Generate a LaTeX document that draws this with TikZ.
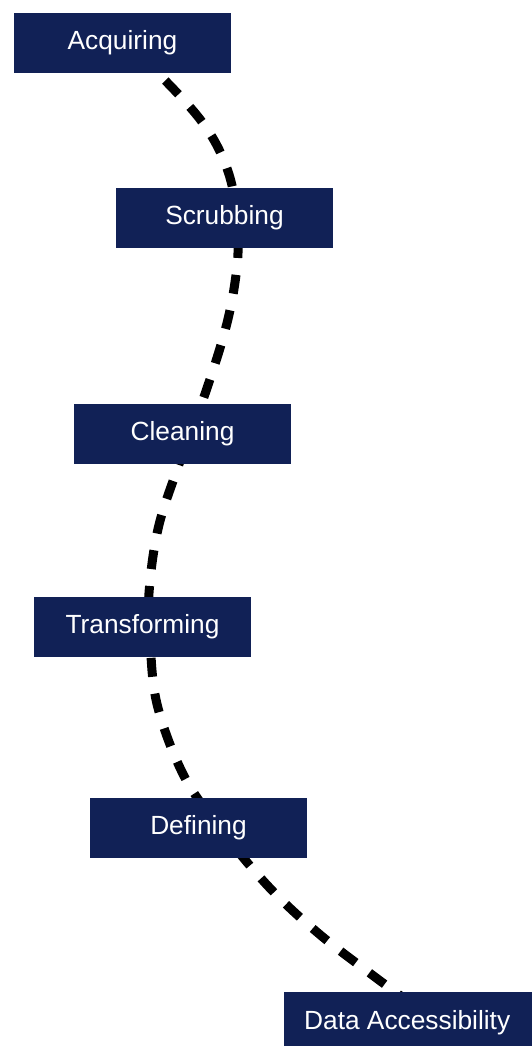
\documentclass[tikz,border=0pt]{standalone}
\usepackage{fontspec}
\setmainfont{Liberation Sans}
\definecolor{navy}{RGB}{17,33,86}
\tikzset{
  stage/.style={rectangle, fill=navy, text=white, minimum width=217pt, minimum height=60pt, inner sep=0pt, font=\fontsize{26.3}{31}\selectfont},
  dashline/.style={line width=9pt, dash pattern=on 19pt off 17pt, black}
}
\begin{document}
\begin{tikzpicture}[x=1pt,y=-1pt]
\useasboundingbox (0,0) rectangle (531,1046);
\coordinate (p0) at (140,55);
\coordinate (p1) at (180,96);
\coordinate (p2) at (205,126);
\coordinate (p3) at (222,156);
\coordinate (p4) at (233,190);
\coordinate (p5) at (238,235);
\coordinate (p6) at (236,275);
\coordinate (p7) at (226,327);
\coordinate (p8) at (205,394);
\coordinate (p9) at (178,467);
\coordinate (p10) at (158,529);
\coordinate (p11) at (149,593);
\coordinate (p12) at (150,640);
\coordinate (p13) at (157,704);
\coordinate (p14) at (182,772);
\coordinate (p15) at (215,822);
\coordinate (p16) at (267,885);
\coordinate (p17) at (318,933);
\coordinate (p18) at (375,977);
\coordinate (p19) at (420,1010);
\draw[dashline] plot[smooth, tension=0.6] coordinates {(p0) (p1) (p2) (p3) (p4) (p5) (p6) (p7) (p8) (p9) (p10) (p11) (p12) (p13) (p14) (p15) (p16) (p17) (p18) (p19)};
\node[stage] (acq) at (122.5,43) {Acquiring};
\node[stage] (scr) at (224.5,217.5) {Scrubbing};
\node[stage] (cle) at (182.5,434) {Cleaning};
\node[stage] (tra) at (142.5,627) {Transforming};
\node[stage] (def) at (198.5,828) {Defining};
\node[stage, minimum width=250pt, anchor=north west] (dat) at (284,992) {\hspace*{-4pt}\raisebox{-3pt}{Data Accessibility}};
\end{tikzpicture}
\end{document}
